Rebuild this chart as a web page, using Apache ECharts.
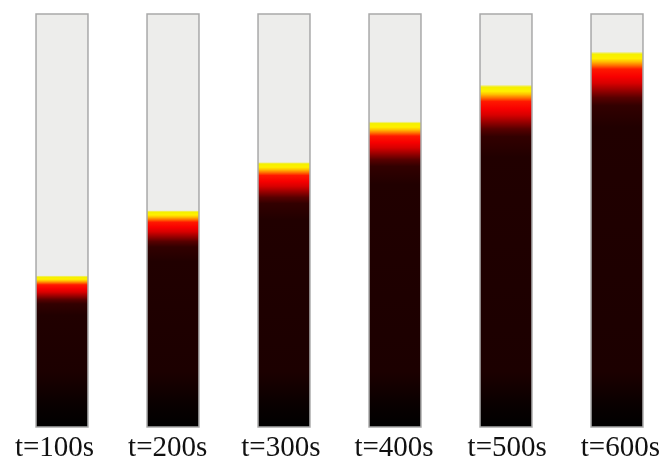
<!DOCTYPE html>
<html>
<head>
<meta charset="utf-8">
<script src="https://cdn.jsdelivr.net/npm/echarts@6/dist/echarts.min.js"></script>
<style>
html,body{margin:0;padding:0;background:#fff;}
#main{width:663px;height:463px;}
</style>
</head>
<body>
<div id="main"></div>
<script>
// Data: front position (fraction of column length from bottom) at each time
const timeLabels = ['t=100s', 't=200s', 't=300s', 't=400s', 't=500s', 't=600s'];
const frontHeights = [0.366, 0.524, 0.641, 0.739, 0.828, 0.908];
// thickness of the hot reaction zone (fraction of column length)
const zoneWidths = [0.068, 0.088, 0.100, 0.108, 0.125, 0.130];

const seriesData = timeLabels.map((t, i) => [i, frontHeights[i], zoneWidths[i]]);

const chart = echarts.init(document.getElementById('main'), null, {renderer: 'canvas'});

function renderItem(params, api) {
  const xi = api.value(0);
  const front = api.value(1);
  const zone = api.value(2);
  const topPt = api.coord([xi, 1]);
  const botPt = api.coord([xi, 0]);
  const frontPt = api.coord([xi, front]);
  const band = api.size([1, 0])[0];
  const w = band * 0.468;
  const x0 = topPt[0] - w / 2;
  const yTop = topPt[1];
  const yBot = botPt[1];
  const yF = frontPt[1];
  const H = yBot - yF;
  const W = api.size([0, zone])[1];
  const clamp = v => Math.max(0, Math.min(1, v));
  const stops = [
    [0, '#eeecc0'],
    [0.04 * W, '#f4f000'],
    [0.12 * W, '#fff000'],
    [0.18 * W, '#ffc000'],
    [0.25 * W, '#ff7000'],
    [0.32 * W, '#ff1800'],
    [0.46 * W, '#f80000'],
    [0.58 * W, '#d80000'],
    [0.7 * W, '#a00000'],
    [0.85 * W, '#580000'],
    [1.0 * W, '#320000'],
    [1.4 * W, '#210000'],
    [H - 55, '#1c0000'],
    [H - 20, '#080000'],
    [H, '#000000']
  ].map(s => ({offset: clamp(s[0] / H), color: s[1]}));
  return {
    type: 'group',
    children: [
      {
        type: 'rect',
        shape: {x: x0, y: yTop, width: w, height: yBot - yTop},
        style: {fill: '#ededeb', stroke: null}
      },
      {
        type: 'rect',
        shape: {x: x0, y: yF, width: w, height: H},
        style: {
          fill: new echarts.graphic.LinearGradient(0, yF, 0, yBot, stops, true),
          stroke: null
        }
      },
      {
        type: 'rect',
        shape: {x: x0, y: yTop, width: w, height: yBot - yTop},
        style: {fill: null, stroke: '#a9a9a9', lineWidth: 1.5}
      }
    ]
  };
}

chart.setOption({
  animation: false,
  backgroundColor: '#ffffff',
  grid: [
    {left: 62, right: 46, top: 14, bottom: 36},
    {left: 54.5, right: 41.2, top: 14, bottom: 36}
  ],
  xAxis: [
    {
      type: 'category', gridIndex: 0, data: timeLabels, boundaryGap: false,
      axisLine: {show: false}, axisTick: {show: false}, axisLabel: {show: false},
      splitLine: {show: false}
    },
    {
      type: 'category', gridIndex: 1, data: timeLabels, boundaryGap: false,
      axisLine: {show: false}, axisTick: {show: false}, splitLine: {show: false},
      axisLabel: {
        show: true, margin: 10, interval: 0,
        fontFamily: '"Liberation Serif", "DejaVu Serif", serif',
        fontSize: 29, lineHeight: 29, color: '#111111'
      }
    }
  ],
  yAxis: [
    {type: 'value', gridIndex: 0, min: 0, max: 1, show: false},
    {type: 'value', gridIndex: 1, min: 0, max: 1, show: false}
  ],
  series: [
    {
      type: 'custom',
      xAxisIndex: 0, yAxisIndex: 0,
      renderItem: renderItem,
      data: seriesData,
      clip: false
    }
  ]
});
</script>
</body>
</html>
